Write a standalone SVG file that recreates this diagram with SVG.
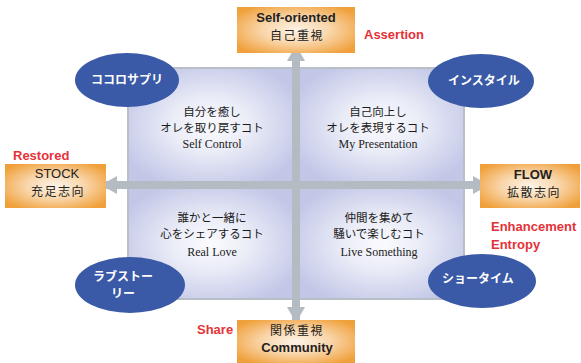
<svg xmlns="http://www.w3.org/2000/svg" width="581" height="363" viewBox="0 0 581 363">
<defs>
<radialGradient id="gq" cx="0.5" cy="0.5" r="0.6">
<stop offset="0" stop-color="#fbfbfe"/>
<stop offset="0.4" stop-color="#eaecf7"/>
<stop offset="1" stop-color="#c2c7e7"/>
</radialGradient>
<radialGradient id="gb" cx="0.5" cy="0.5" r="0.62">
<stop offset="0" stop-color="#fdf3e6"/>
<stop offset="0.45" stop-color="#f9d7ad"/>
<stop offset="1" stop-color="#f0a03a"/>
</radialGradient>
<marker id="ah" viewBox="0 0 16 18" refX="15" refY="9" markerWidth="16" markerHeight="18" markerUnits="userSpaceOnUse" orient="auto-start-reverse">
<path d="M0,0 L16,9 L0,18 Z" fill="#b4bbc3"/>
</marker>
<style>
.q{fill:url(#gq);}
.bx{fill:url(#gb);}
.el{fill:#3a59a6;}
.jp{font-family:"Noto Sans CJK JP","Noto Sans",sans-serif;font-size:11.5px;fill:#1a1a1a;text-anchor:middle;}
.en{font-family:"Liberation Serif",serif;font-size:12px;fill:#222;text-anchor:middle;}
.bt{font-family:"Liberation Sans","Noto Sans CJK JP",sans-serif;font-size:13px;fill:#222;text-anchor:middle;}
.bj{font-family:"Noto Sans CJK JP",sans-serif;font-size:12px;fill:#222;text-anchor:middle;letter-spacing:1.5px;}
.et{font-family:"Noto Sans CJK JP",sans-serif;font-size:12px;font-weight:bold;fill:#fff;text-anchor:middle;}
.rd{font-family:"Liberation Sans",sans-serif;font-size:13px;font-weight:bold;fill:#e53238;}
</style>
</defs>
<g id="matrix">
<rect x="127" y="67" width="338" height="233" fill="#b9bfc7"/>
<rect class="q" x="129" y="69" width="163" height="112"/>
<rect class="q" x="300" y="69" width="163" height="112"/>
<rect class="q" x="129" y="189" width="163" height="109"/>
<rect class="q" x="300" y="189" width="163" height="109"/>
</g>
<g id="connectors">
<line x1="102" y1="185" x2="488" y2="185" stroke="#b4bbc3" stroke-width="8" marker-start="url(#ah)" marker-end="url(#ah)"/>
<line x1="296" y1="46" x2="296" y2="322" stroke="#b4bbc3" stroke-width="8" marker-start="url(#ah)" marker-end="url(#ah)"/>
</g>
<g id="q-tl">
<text class="jp" x="212" y="116">自分を癒し</text>
<text class="jp" x="212" y="131.5">オレを取り戻すコト</text>
<text class="en" x="212" y="148">Self Control</text>
</g>
<g id="q-tr">
<text class="jp" x="378" y="116">自己向上し</text>
<text class="jp" x="378" y="131.5">オレを表現するコト</text>
<text class="en" x="378" y="148">My Presentation</text>
</g>
<g id="q-bl">
<text class="jp" x="212" y="221.5">誰かと一緒に</text>
<text class="jp" x="212" y="237.5">心をシェアするコト</text>
<text class="en" x="212" y="255.5">Real Love</text>
</g>
<g id="q-br">
<text class="jp" x="379" y="221.5">仲間を集めて</text>
<text class="jp" x="379" y="237.5">騒いで楽しむコト</text>
<text class="en" x="379" y="255.5">Live Something</text>
</g>
<g id="box-top">
<rect class="bx" x="237" y="7" width="118" height="46"/>
<text class="bt" x="296" y="22" font-weight="bold">Self-oriented</text>
<text class="bj" x="297" y="40">自己重視</text>
</g>
<g id="box-left">
<rect class="bx" x="5" y="164" width="101" height="44"/>
<text class="bt" x="57" y="178">STOCK</text>
<text class="bj" x="58" y="196">充足志向</text>
</g>
<g id="box-right">
<rect class="bx" x="480" y="164" width="100" height="44"/>
<text class="bt" x="533" y="179" font-weight="bold">FLOW</text>
<text class="bj" x="534" y="197">拡散志向</text>
</g>
<g id="box-bottom">
<rect class="bx" x="237" y="320" width="118" height="43"/>
<text class="bj" x="297" y="335">関係重視</text>
<text class="bt" x="297" y="352" font-weight="bold" font-size="12">Community</text>
</g>
<g id="e-tl">
<ellipse class="el" cx="127" cy="80" rx="52" ry="27"/>
<text class="et" x="127" y="84">ココロサプリ</text>
</g>
<g id="e-tr">
<ellipse class="el" cx="481" cy="81" rx="53" ry="27"/>
<text class="et" x="484" y="85">インスタイル</text>
</g>
<g id="e-bl">
<ellipse class="el" cx="130" cy="285" rx="55" ry="28"/>
<text class="et" x="123" y="281">ラブストー</text>
<text class="et" x="123" y="298">リー</text>
</g>
<g id="e-br">
<ellipse class="el" cx="482" cy="281" rx="54" ry="27"/>
<text class="et" x="478" y="283">ショータイム</text>
</g>
<g id="labels">
<text class="rd" x="364" y="39">Assertion</text>
<text class="rd" x="13" y="160">Restored</text>
<text class="rd" x="491" y="231" font-size="13.5">Enhancement</text>
<text class="rd" x="491" y="249" font-size="13.5">Entropy</text>
<text class="rd" x="197" y="334">Share</text>
</g>
</svg>
